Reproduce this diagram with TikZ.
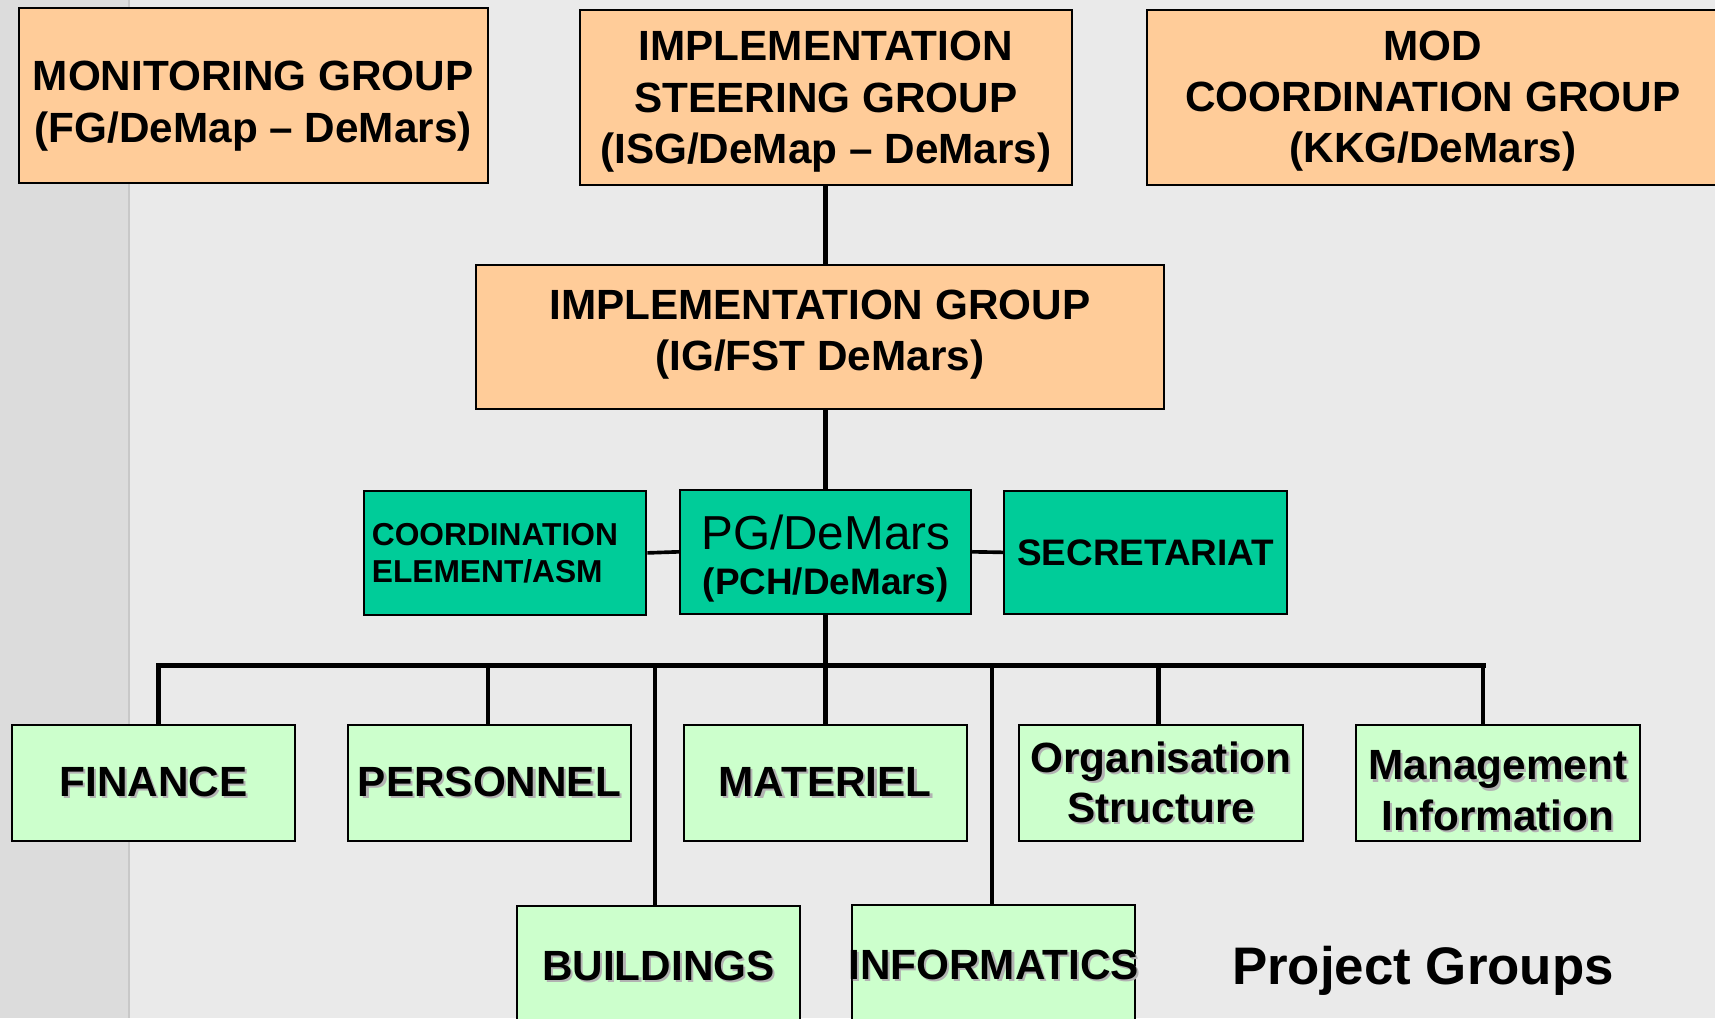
\documentclass[tikz,border=0pt]{standalone}
\usepackage{fontspec}
\setmainfont{Liberation Sans}
\definecolor{orangeF}{HTML}{FFCC99}
\definecolor{tealF}{HTML}{00CC99}
\definecolor{greenF}{HTML}{CCFFCC}
\definecolor{pageBg}{HTML}{EAEAEA}
\definecolor{stripBg}{HTML}{DCDCDC}
\definecolor{stripLine}{HTML}{C8C8C8}
% text with a soft grey drop shadow
\newcommand\shd[1]{\leavevmode\rlap{\kern1.1pt\raisebox{-1.1pt}{\color{black!30}#1}}#1}
% the larger, regular-weight first line of the project chief box
\newcommand\pglead{{\fontsize{24.8}{23.6}\selectfont\mdseries PG/DeMars}}
\tikzset{
  sz/.style 2 args={minimum width=#1*0.02cm, minimum height=#2*0.02cm},
  box/.style={draw=black, line width=1pt, inner sep=0pt, align=center},
  obox/.style={box, fill=orangeF},
  otext/.style={font=\fontsize{22}{26.7}\selectfont\bfseries, align=center, inner sep=0pt},
  tbox/.style={box, fill=tealF},
  gbox/.style={box, fill=greenF, font=\fontsize{22}{26.2}\selectfont\bfseries, sz={259}{106}},
  link/.style={line width=2.4pt},
  sidelink/.style={line width=1.9pt},
  busline/.style={line width=2.6pt}
}
\begin{document}
\begin{tikzpicture}[x=0.02cm, y=-0.02cm]
\useasboundingbox (0,0) rectangle (1568,931);
\clip (0,0) rectangle (1568,931);

% page background and left margin strip
\fill[pageBg] (0,0) rectangle (1568,931);
\fill[stripBg] (0,0) rectangle (118,931);
\draw[stripLine, line width=0.8pt] (118,0) -- (118,931);

% steering level
\node[obox, sz={429}{160},
      label={[otext, name=mon-t, yshift=-0.2cm]center:{MONITORING GROUP\\(FG/DeMap -- DeMars)}}]
  (mon) at (231.5,87) {};
\node[obox, sz={450}{160},
      label={[otext, name=isg-t, yshift=-0.08cm]center:{IMPLEMENTATION\\STEERING GROUP\\(ISG/DeMap -- DeMars)}}]
  (isg) at (755,89) {};
\node[obox, sz={522}{160},
      label={[otext, name=mod-t, yshift=-0.07cm]center:{MOD\\COORDINATION GROUP\\(KKG/DeMars)}}]
  (mod) at (1310,89) {};

% implementation level
\node[obox, sz={629}{132},
      label={[otext, name=ig-t, yshift=0.04cm]center:{IMPLEMENTATION GROUP\\(IG/FST DeMars)}}]
  (ig) at (749.5,308) {};

% project leadership
\node[tbox, sz={258}{113}, text width=244*0.02cm, align=left,
      font=\fontsize{16.5}{19.4}\selectfont\bfseries] (ce) at (462,505.5)
  {COORDINATION\\ELEMENT/ASM};
\node[tbox, sz={266}{113}] (pg) at (755,504.5) {};
\node[align=center, inner sep=0pt, font=\fontsize{19.2}{23.6}\selectfont\bfseries]
  (pg-t) at (755,510.5) {\pglead\\(PCH/DeMars)};
\node[tbox, sz={259}{112}, font=\fontsize{19.2}{22}\selectfont\bfseries] (sec) at (1047.5,505)
  {SECRETARIAT};

% project groups
\node[gbox] (fin) at (140.5,716) {\shd{FINANCE}};
\node[gbox] (per) at (447.5,716) {\shd{PERSONNEL}};
\node[gbox] (mat) at (754.5,716) {\shd{MATERIEL}};
\node[gbox] (org) at (1061.5,716) {\shd{Organisation}\\\shd{Structure}};
\node[gbox, label={[name=mgt-t, font=\fontsize{22}{26.2}\selectfont\bfseries, align=center,
      inner sep=0pt, yshift=-0.16cm]center:{\shd{Management}\\\shd{Information}}}]
  (mgt) at (1369.5,716) {};
\node[gbox, minimum height=112*0.02cm] (bld) at (602,884) {\shd{BUILDINGS}};
\node[gbox, minimum height=112*0.02cm] (inf) at (908.5,883)
  {\makebox[0pt]{\shd{INFORMATICS}}};

\node[font=\fontsize{27.5}{33}\selectfont\bfseries, anchor=base] (title) at (1301,900)
  {Project Groups};

% connectors
\draw[link] (isg.south) -- (isg.south |- ig.north);
\draw[link] (pg.north |- ig.south) -- (pg.north);
\draw[sidelink] (ce.east) -- (pg.west);
\draw[sidelink] (pg.east) -- (sec.west);

\coordinate (bL) at (145,608);
\coordinate (bR) at (1356,608);
\coordinate (b-per) at (446,608);
\coordinate (b-bld) at (599,608);
\coordinate (b-inf) at (907,608);
\coordinate (b-org) at (1059,608);

\draw[link] (pg.south) -- (pg.south |- bL);
\draw[busline, line cap=rect] (bL) -- (bR);
\draw[link] (bL) -- (bL |- fin.north);
\draw[link] (b-per) -- (b-per |- per.north);
\draw[link] (b-bld) -- (b-bld |- bld.north);
\draw[link] (pg.south |- bL) -- (mat.north -| pg.south);
\draw[link] (b-inf) -- (b-inf |- inf.north);
\draw[link] (b-org) -- (b-org |- org.north);
\draw[link] (bR) -- (bR |- mgt.north);
\end{tikzpicture}
\end{document}
